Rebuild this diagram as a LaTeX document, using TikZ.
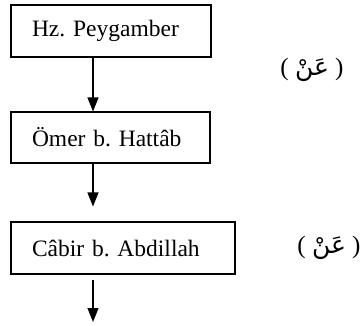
\documentclass[tikz,border=0pt]{standalone}
\usepackage{fontspec}
\setmainfont{Liberation Serif}
\newfontfamily\arabicfont[Script=Arabic]{DejaVu Sans}
\TeXXeTstate=1
\frenchspacing
\usetikzlibrary{arrows.meta}
\tikzset{
  namebox/.style={draw, line width=1.1pt, minimum height=52pt, inner xsep=21pt, align=left, font=\fontsize{23.5}{27}\selectfont\frenchspacing},
  arr/.style={line width=1.1pt, -{Triangle[length=14pt,width=11pt]}},
  anlabel/.style={font=\fontsize{25}{29}\selectfont, inner sep=0pt}
}
\begin{document}
\begin{tikzpicture}[x=1pt,y=-1pt]
\useasboundingbox (0,0) rectangle (361,325);
\node[namebox, text width=158pt] (b1) at (111,31) {Hz. Peygamber};
\node[namebox, text width=157pt, minimum height=51pt] (b2) at (110.5,137.5) {Ömer b. Hattâb};
\node[namebox, text width=182pt] (b3) at (123,248) {Câbir b. Abdillah};
\coordinate (ax) at (93,0);
\coordinate (end) at (93,322);
\draw[arr] (b1.south -| ax) -- (b2.north -| ax);
\draw[arr, shorten >=15pt] (b2.south -| ax) -- (b3.north -| ax);
\draw[arr, shorten <=5pt] (b3.south -| ax) -- (end);
\node[anlabel] (l1) at (312,70) {( {\arabicfont\beginR عَنْ\endR} )};
\node[anlabel] (l2) at (329,248) {( {\arabicfont\beginR عَنْ\endR} )};
\end{tikzpicture}
\end{document}
